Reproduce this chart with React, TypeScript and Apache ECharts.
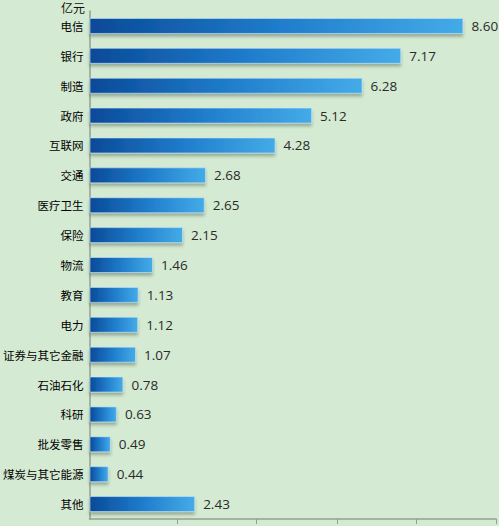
import React, { useEffect, useRef } from "react";
import * as echarts from "echarts";

const categories = ["电信", "银行", "制造", "政府", "互联网", "交通", "医疗卫生", "保险", "物流", "教育", "电力", "证券与其它金融", "石油石化", "科研", "批发零售", "煤炭与其它能源", "其他"];
const values = [8.6, 7.17, 6.28, 5.12, 4.28, 2.68, 2.65, 2.15, 1.46, 1.13, 1.12, 1.07, 0.78, 0.63, 0.49, 0.44, 2.43];
const tickValues = [2.01, 3.84, 5.69, 7.52, 9.35];
const unitLabel = "亿元";

export default function App() {
  const ref = useRef<HTMLDivElement>(null);
  useEffect(() => {
    document.body.style.margin = "0";
    const chart = echarts.init(ref.current!, null, { renderer: "svg" });
    chart.setOption({
      animation: false,
      backgroundColor: "#d4ead2",
      grid: { left: 87, right: 3, top: 11, bottom: 7, containLabel: false },
      graphic: [
        {
          type: "text",
          left: 61,
          top: 1,
          style: { text: unitLabel, fontFamily: "Noto Sans CJK SC", fontSize: 12, fill: "#111" },
        },
      ],
      xAxis: {
        type: "value",
        min: 0,
        max: 9.35,
        interval: 1.87,
        axisLine: { show: true, lineStyle: { color: "#93a093", width: 1.5 } },
        axisTick: { show: true, length: 5, customValues: tickValues, lineStyle: { color: "#93a093" } },
        axisLabel: { show: false },
        splitLine: { show: false },
      },
      yAxis: {
        type: "category",
        data: categories,
        inverse: true,
        axisLine: { show: true, lineStyle: { color: "#93a093", width: 1.5 } },
        axisTick: { show: false },
        axisLabel: { fontFamily: "Noto Sans CJK SC", fontSize: 11.5, color: "#000", margin: 6 },
      },
      series: [
        {
          type: "bar",
          data: values,
          barWidth: 16,
          itemStyle: {
            color: new echarts.graphic.LinearGradient(0, 0, 1, 0, [
              { offset: 0, color: "#0a4a98" },
              { offset: 0.5, color: "#1f7ccb" },
              { offset: 1, color: "#44abe8" },
            ]),
            borderColor: "rgba(200,230,250,0.6)",
            borderWidth: 1,
            shadowColor: "rgba(40,60,40,0.35)",
            shadowBlur: 3,
            shadowOffsetY: 3,
          },
          label: {
            show: true,
            position: "right",
            distance: 8,
            formatter: (p: any) => p.value.toFixed(2),
            fontFamily: "Open Sans",
            fontSize: 13.5,
            color: "#2a2a2a",
          },
        },
      ],
    });
    return () => chart.dispose();
  }, []);
  return <div ref={ref} style={{ width: 499, height: 526 }} />;
}
